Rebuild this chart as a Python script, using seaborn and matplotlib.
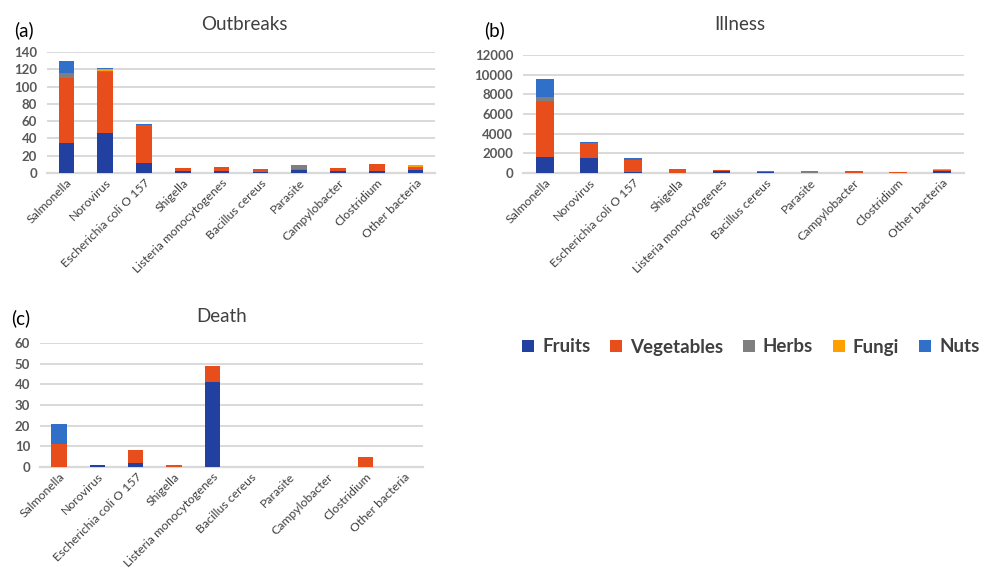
import matplotlib
matplotlib.use("Agg")
import matplotlib.pyplot as plt
from matplotlib.patches import Patch
import numpy as np
import pandas as pd
import seaborn as sns

# Pathogens on the x axis
pathogens = ["Salmonella", "Norovirus", "Escherichia coli O 157", "Shigella",
             "Listeria monocytogenes", "Bacillus cereus", "Parasite",
             "Campylobacter", "Clostridium", "Other bacteria"]

# Food groups (stacking order, bottom to top)
food_groups = ["Fruits", "Vegetables", "Herbs", "Fungi", "Nuts"]
group_colors = ["#2140A0", "#E84E1B", "#7F7F7F", "#FFA000", "#3070C8"]

# (a) Outbreaks
outbreak_fruits = [35, 46, 12, 2, 2, 1, 3, 2, 2, 4]
outbreak_vegetables = [75, 71, 44, 4, 5, 4, 2, 4, 8, 3]
outbreak_herbs = [6, 1, 0, 0, 0, 0, 4, 0, 0, 0]
outbreak_fungi = [0, 2, 0, 0, 0, 0, 0, 0, 0, 2]
outbreak_nuts = [14, 1, 1, 0, 0, 0, 0, 0, 0, 0]

# (b) Illness
illness_fruits = [1620, 1480, 130, 0, 180, 80, 0, 0, 0, 240]
illness_vegetables = [5710, 1560, 1220, 440, 90, 90, 0, 200, 150, 100]
illness_herbs = [440, 0, 0, 0, 0, 0, 180, 0, 0, 0]
illness_fungi = [0, 0, 0, 0, 0, 0, 0, 0, 0, 60]
illness_nuts = [1790, 160, 130, 0, 0, 0, 0, 0, 0, 0]

# (c) Death
death_fruits = [0, 1, 2, 0, 41, 0, 0, 0, 0, 0]
death_vegetables = [11, 0, 6, 1, 8, 0, 0, 0, 5, 0]
death_herbs = [0, 0, 0, 0, 0, 0, 0, 0, 0, 0]
death_fungi = [0, 0, 0, 0, 0, 0, 0, 0, 0, 0]
death_nuts = [10, 0, 0, 0, 0, 0, 0, 0, 0, 0]

panels = [
    dict(letter="(a)", title="Outbreaks",
         series=[outbreak_fruits, outbreak_vegetables, outbreak_herbs, outbreak_fungi, outbreak_nuts],
         yticks=list(range(0, 141, 20)),
         rect=[47 / 984, 1 - 173 / 572, 388 / 984, 121 / 572],
         title_xy=(244, 25), letter_xy=(14, 30)),
    dict(letter="(b)", title="Illness",
         series=[illness_fruits, illness_vegetables, illness_herbs, illness_fungi, illness_nuts],
         yticks=list(range(0, 12001, 2000)),
         rect=[523 / 984, 1 - 173 / 572, 441 / 984, 118 / 572],
         title_xy=(740, 25), letter_xy=(484, 30)),
    dict(letter="(c)", title="Death",
         series=[death_fruits, death_vegetables, death_herbs, death_fungi, death_nuts],
         yticks=list(range(0, 61, 10)),
         rect=[40 / 984, 1 - 467 / 572, 383 / 984, 124 / 572],
         title_xy=(222, 317), letter_xy=(11, 318)),
]

sns.set_theme(style="white")
plt.rcParams["font.family"] = ["Lato", "DejaVu Sans"]

W, H = 984, 572
fig = plt.figure(figsize=(W / 100, H / 100), dpi=100)
fig.patch.set_facecolor("white")

text_gray = "#595959"
grid_gray = "#D9D9D9"

for p in panels:
    ax = fig.add_axes(p["rect"])
    df = pd.DataFrame(dict(zip(food_groups, p["series"])), index=pathogens)
    cum = df.cumsum(axis=1)
    # Draw cumulative totals from the top layer down so each segment shows
    for grp, col in zip(reversed(food_groups), reversed(group_colors)):
        sns.barplot(x=pathogens, y=cum[grp].values, color=col, width=0.4,
                    linewidth=0, saturation=1,
                    errorbar=None, ax=ax, zorder=3)
    ax.set_xlim(-0.5, len(pathogens) - 0.5)
    ax.set_ylim(0, p["yticks"][-1])
    ax.set_yticks(p["yticks"])
    ax.set_yticklabels([str(v) for v in p["yticks"]], fontsize=9.5,
                       color=text_gray, fontweight="bold")
    ax.yaxis.grid(True, color=grid_gray, linewidth=1.4, zorder=0)
    ax.set_axisbelow(True)
    for s in ["top", "right", "left"]:
        ax.spines[s].set_visible(False)
    ax.spines["bottom"].set_color(grid_gray)
    ax.spines["bottom"].set_linewidth(1.6)
    ax.tick_params(axis="both", length=0)
    ax.tick_params(axis="y", pad=7)
    ax.tick_params(axis="x", pad=3)
    ax.set_xticks(range(len(pathogens)))
    ax.set_xticklabels(pathogens, rotation=45, ha="right",
                       rotation_mode="anchor", fontsize=8.8, color="#404040")
    ax.set_xlabel("")
    ax.set_ylabel("")
    fig.text(p["title_xy"][0] / W, 1 - p["title_xy"][1] / H, p["title"],
             ha="center", va="center", fontsize=13.5, color="#404040")
    fig.text(p["letter_xy"][0] / W, 1 - p["letter_xy"][1] / H, p["letter"],
             ha="left", va="center", fontsize=13.5, color="black")

handles = [Patch(facecolor=c, edgecolor="none", label=g)
           for g, c in zip(food_groups, group_colors)]
leg = fig.legend(handles=handles, loc="center left",
                 bbox_to_anchor=(507 / W, 1 - 347 / H), ncol=5, frameon=False,
                 handlelength=0.62, handleheight=0.62, handletextpad=0.45,
                 columnspacing=1.05, borderpad=0.3,
                 prop={"size": 13.5, "weight": "bold"})
for t in leg.get_texts():
    t.set_color("#404040")

fig.savefig("out.png", dpi=100, facecolor="white")
